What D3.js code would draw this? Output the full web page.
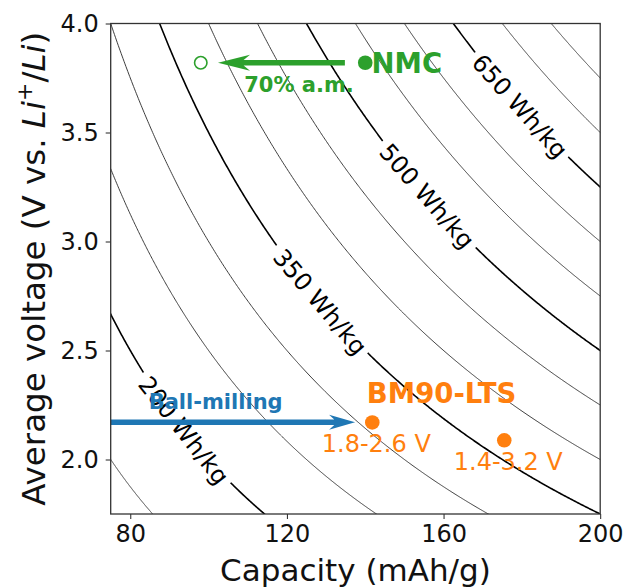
<!DOCTYPE html>
<html><head><meta charset="utf-8">
<script src="https://cdn.jsdelivr.net/npm/d3@7"></script>
<style>
html,body{margin:0;padding:0;background:#fff;}
svg{display:block;font-family:"DejaVu Sans",sans-serif;}
</style></head>
<body>
<svg id="chart" width="627" height="588"></svg>
<script>
// ---- data ----
const xDomain = [75, 200];
const yDomain = [1.75, 4.0];
const xTicks = [80, 120, 160, 200];
const yTicks = [2.0, 2.5, 3.0, 3.5, 4.0];
const contourLevels = [150, 200, 250, 300, 350, 400, 450, 500, 550, 600, 650, 700, 750, 800];
const labeledLevels = [200, 350, 500, 650];
const labelCapacity = [93.7, 128.5, 155.8, 179.5];   // capacity where each contour label sits
const nmcPoint = {cap: 140, volt: 3.82};
const nmcReduced = {cap: 98, volt: 3.82};
const nmcArrow = {from: 134.8, to: 102.4, volt: 3.82};
const bmCaps = [141.8, 175.5];
const bmVolts = [2.17, 2.088];
const bmRangeLabels = ["1.8-2.6 V", "1.4-3.2 V"];
const ballArrow = {from: 75, to: 137.4, volt: 2.171};
const texts = {
  nmc: {text: "NMC", cap: 141.6, volt: 3.773},
  am: {text: "70% a.m.", cap: 123.1, volt: 3.688},
  bm: {text: "BM90-LTS", cap: 159.5, volt: 2.26},
  ball: {text: "Ball-milling", cap: 101.8, volt: 2.232}
};
const GREEN = "#2ca02c", ORANGE = "#ff7f0e", BLUE = "#1f77b4";

// ---- layout ----
const L = 110.7, R = 600.2, T = 23.5, B = 514;
const svg = d3.select("#chart");
const x = d3.scaleLinear().domain(xDomain).range([L, R]);
const y = d3.scaleLinear().domain(yDomain).range([B, T]);

svg.append("defs").append("clipPath").attr("id", "clip")
  .append("rect").attr("x", L).attr("y", T).attr("width", R - L).attr("height", B - T);

const plot = svg.append("g").attr("clip-path", "url(#clip)");
const labelG = svg.append("g");

// contour curves: energy = capacity * voltage
function curvePoints(E) {
  const c0 = Math.max(xDomain[0], E / yDomain[1]) - 0.5;
  const c1 = Math.min(xDomain[1], E / yDomain[0]) + 0.5;
  const pts = [];
  const n = 400;
  for (let i = 0; i <= n; i++) {
    const c = c0 + (c1 - c0) * i / n;
    pts.push([x(c), y(E / c)]);
  }
  return pts;
}
const line = d3.line().defined(d => d != null);

contourLevels.forEach(E => {
  const thick = labeledLevels.includes(E) || E === 800;
  let pts = curvePoints(E);
  const li = labeledLevels.indexOf(E);
  if (li >= 0) {
    const c = labelCapacity[li];
    const cx = x(c), cy = y(E / c);
    const d = 0.5;
    const ang = Math.atan2(y(E / (c + d)) - y(E / (c - d)), x(c + d) - x(c - d)) * 180 / Math.PI;
    const t = labelG.append("text")
      .attr("transform", `translate(${cx},${cy}) rotate(${ang})`)
      .attr("text-anchor", "middle").attr("dy", "0.36em")
      .attr("font-size", 24).attr("fill", "#000")
      .text(E + " Wh/kg");
    const w = t.node().getComputedTextLength();
    const r = w / 2 + 5;
    pts = pts.map(p => (Math.hypot(p[0] - cx, p[1] - cy) < r ? null : p));
  }
  plot.append("path").attr("d", line(pts))
    .attr("fill", "none")
    .attr("stroke", thick ? "#000" : "#333")
    .attr("stroke-width", thick ? 1.6 : 0.95);
});

// arrows
function arrowPath(x0, x1, yy, sw, hl, hw) {
  const dir = Math.sign(x1 - x0);
  const back = x1 - dir * hl;
  const notch = x1 - dir * hl * 0.8;
  return `M${x0},${yy - sw} L${notch},${yy - sw} L${back},${yy - hw} L${x1},${yy} L${back},${yy + hw} L${notch},${yy + sw} L${x0},${yy + sw} Z`;
}
svg.append("path")
  .attr("d", arrowPath(x(nmcArrow.from), x(nmcArrow.to), y(nmcArrow.volt), 2.7, 32, 8))
  .attr("fill", GREEN);
svg.append("path")
  .attr("d", arrowPath(x(ballArrow.from), x(ballArrow.to), y(ballArrow.volt), 2.7, 26, 7.5))
  .attr("fill", BLUE);

// points
svg.append("circle").attr("cx", x(nmcPoint.cap)).attr("cy", y(nmcPoint.volt)).attr("r", 7.3).attr("fill", GREEN);
svg.append("circle").attr("cx", x(nmcReduced.cap)).attr("cy", y(nmcReduced.volt)).attr("r", 6.2)
  .attr("fill", "none").attr("stroke", GREEN).attr("stroke-width", 1.6);
svg.selectAll("circle.bm").data(bmCaps).enter().append("circle").attr("class", "bm")
  .attr("cx", d => x(d)).attr("cy", (d, i) => y(bmVolts[i])).attr("r", 7.3).attr("fill", ORANGE);
svg.selectAll("text.bmr").data(bmRangeLabels).enter().append("text").attr("class", "bmr")
  .attr("x", (d, i) => x(bmCaps[i]) + 4).attr("y", (d, i) => y(bmVolts[i]) + 30)
  .attr("text-anchor", "middle").attr("font-size", 24).attr("fill", ORANGE).text(d => d);

// annotations
svg.append("text").attr("x", x(texts.nmc.cap)).attr("y", y(texts.nmc.volt))
  .attr("font-size", 27.5).attr("font-weight", "bold").attr("fill", GREEN).text(texts.nmc.text);
svg.append("text").attr("x", x(texts.am.cap)).attr("y", y(texts.am.volt)).attr("text-anchor", "middle")
  .attr("font-size", 21).attr("font-weight", "bold").attr("fill", GREEN).text(texts.am.text);
svg.append("text").attr("x", x(texts.bm.cap)).attr("y", y(texts.bm.volt)).attr("text-anchor", "middle")
  .attr("font-size", 27.5).attr("font-weight", "bold").attr("fill", ORANGE).text(texts.bm.text);
svg.append("text").attr("x", x(texts.ball.cap)).attr("y", y(texts.ball.volt)).attr("text-anchor", "middle")
  .attr("font-size", 21).attr("font-weight", "bold").attr("fill", BLUE).text(texts.ball.text);

// axes
const xAxis = svg.append("g").attr("transform", `translate(0,${B})`)
  .call(d3.axisBottom(x).tickValues(xTicks).tickSize(5).tickPadding(6).tickFormat(d3.format("d")));
const yAxis = svg.append("g").attr("transform", `translate(${L},0)`)
  .call(d3.axisLeft(y).tickValues(yTicks).tickSize(5).tickPadding(7).tickFormat(d3.format(".1f")));
[xAxis, yAxis].forEach(a => {
  a.select(".domain").remove();
  a.selectAll("line").attr("stroke", "#222").attr("stroke-width", 1);
  a.selectAll("text").attr("font-size", 24).attr("fill", "#111").attr("font-family", "DejaVu Sans");
});
svg.append("rect").attr("x", L).attr("y", T).attr("width", R - L).attr("height", B - T)
  .attr("fill", "none").attr("stroke", "#333").attr("stroke-width", 1.3);

svg.append("text").attr("x", (L + R) / 2).attr("y", 581).attr("text-anchor", "middle")
  .attr("font-size", 31).attr("fill", "#111").text("Capacity (mAh/g)");

const yl = svg.append("text").attr("transform", `translate(45,${(T + B) / 2}) rotate(-90)`)
  .attr("text-anchor", "middle").attr("font-size", 32.5).attr("fill", "#111");
yl.append("tspan").text("Average voltage (V vs. ");
yl.append("tspan").attr("font-style", "italic").text("Li");
yl.append("tspan").attr("font-size", 22).attr("dy", -13).text("+");
yl.append("tspan").attr("dy", 13).text("/");
yl.append("tspan").attr("font-style", "italic").text("Li");
yl.append("tspan").text(")");
</script>
</body></html>
